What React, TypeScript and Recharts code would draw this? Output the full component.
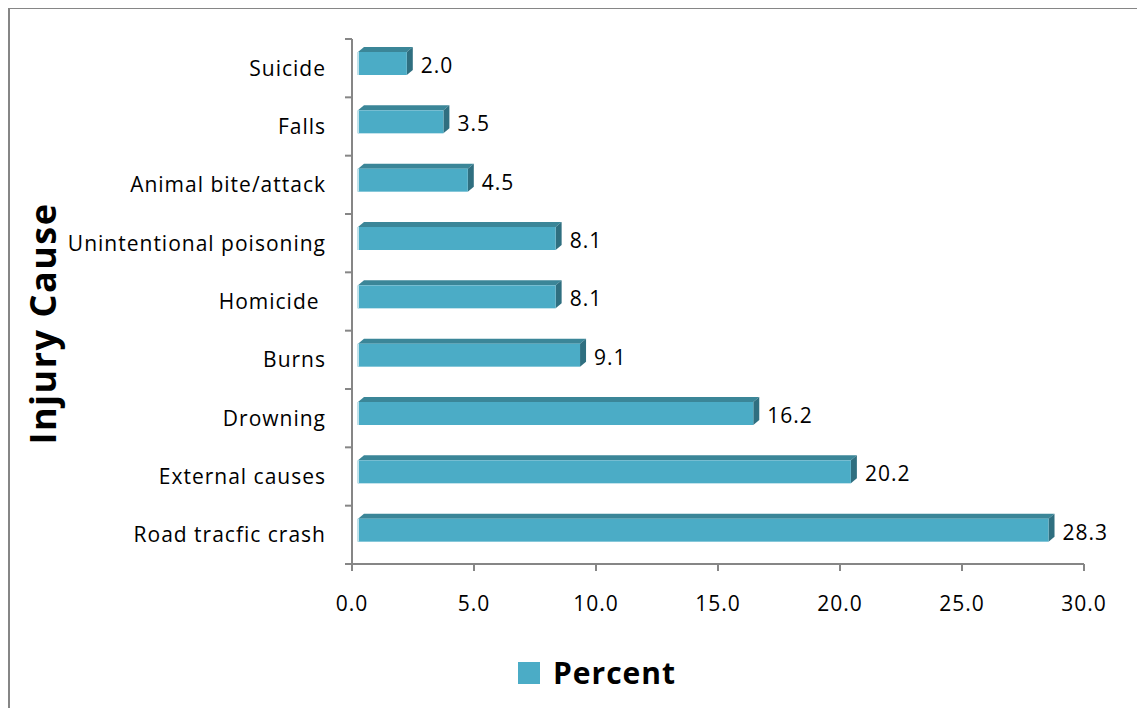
import React from 'react';
import { BarChart, Bar, XAxis, YAxis, LabelList, Legend } from 'recharts';

const categories = [
  'Suicide',
  'Falls',
  'Animal bite/attack',
  'Unintentional poisoning',
  'Homicide ',
  'Burns',
  'Drowning',
  'External causes',
  'Road tracfic crash',
];
const percent = [2.0, 3.5, 4.5, 8.1, 8.1, 9.1, 16.2, 20.2, 28.3];
const xTicks = [0, 5, 10, 15, 20, 25, 30];

const data = categories.map((name, i) => ({ name, value: percent[i] }));

const W = 1135;
const H = 699;
const MARGIN = { top: 30, right: 61, bottom: 84, left: 0 };
const Y_AXIS_W = 342;
const PLOT_LEFT = MARGIN.left + Y_AXIS_W;
const PLOT_H = H - MARGIN.top - MARGIN.bottom - 60;
const BAND = PLOT_H / categories.length;

const AXIS = '#868686';
const FRONT = '#4BACC6';
const TOP = '#3B8698';
const SIDE = '#2F6F80';
const FONT = '"Open Sans", sans-serif';

// depth of the fake 3D block
const DX = 6;
const DY = 5;

const Bar3D = (props: any) => {
  const { x, y, width, height } = props;
  if (!width || width <= 0) return null;
  const fx = x + DX;
  const fy = y - DY;
  return (
    <g>
      <polygon
        points={`${fx},${fy} ${fx + width},${fy} ${fx + width + DX},${fy - DY} ${fx + DX},${fy - DY}`}
        fill={TOP}
      />
      <polygon
        points={`${fx + width},${fy} ${fx + width + DX},${fy - DY} ${fx + width + DX},${fy + height - DY} ${fx + width},${fy + height}`}
        fill={SIDE}
      />
      <rect x={fx} y={fy} width={width} height={height} fill={FRONT} />
      <rect x={fx - 1} y={fy} width={2} height={height} fill="#BFE1EA" />
    </g>
  );
};

const CatTick = (props: any) => {
  const { y, payload, index } = props;
  const last = index === categories.length - 1;
  return (
    <g>
      <line x1={PLOT_LEFT - 7} x2={PLOT_LEFT} y1={y - BAND / 2} y2={y - BAND / 2} stroke={AXIS} strokeWidth={2} />
      {last && (
        <line x1={PLOT_LEFT - 7} x2={PLOT_LEFT} y1={y + BAND / 2} y2={y + BAND / 2} stroke={AXIS} strokeWidth={2} />
      )}
      <text
        x={PLOT_LEFT - 26}
        y={y}
        dy="0.36em"
        textAnchor="end"
        fill="#000"
        style={{ fontFamily: FONT, fontSize: 21, letterSpacing: 1, whiteSpace: 'pre' }}
      >
        {payload.value}
      </text>
    </g>
  );
};

const ValueLabel = (props: any) => {
  const { x, y, width, height, value } = props;
  return (
    <text
      x={x + width + 2 * DX + 8}
      y={y - DY + height / 2 + 2}
      dy="0.36em"
      fill="#000"
      style={{ fontFamily: FONT, fontSize: 21, letterSpacing: 1 }}
    >
      {Number(value).toFixed(1)}
    </text>
  );
};

const AxisTitle = (props: any) => {
  const { viewBox } = props;
  const cx = 32;
  const cy = viewBox.y + viewBox.height / 2 + 22;
  return (
    <text
      x={cx}
      y={cy}
      textAnchor="middle"
      dominantBaseline="central"
      transform={`rotate(-90, ${cx}, ${cy})`}
      fill="#000"
      style={{ fontFamily: FONT, fontSize: 36, fontWeight: 700, letterSpacing: 1.5 }}
    >
      Injury Cause
    </text>
  );
};

const LegendBox = () => (
  <div style={{ display: 'flex', alignItems: 'center', fontFamily: FONT }}>
    <span style={{ width: 22, height: 22, background: FRONT, display: 'inline-block', marginRight: 13 }} />
    <span style={{ fontSize: 30, fontWeight: 700, letterSpacing: 1, color: '#000' }}>Percent</span>
  </div>
);

export default function App() {
  return (
    <div style={{ borderTop: `2px solid ${AXIS}`, borderLeft: `2px solid ${AXIS}`, width: W, height: H, background: '#fff', marginTop: -1 }}>
      <BarChart width={W} height={H} data={data} layout="vertical" margin={MARGIN} barSize={23}>
        <XAxis
          type="number"
          domain={[0, 30]}
          ticks={xTicks}
          tickFormatter={(v: number) => v.toFixed(1)}
          axisLine={{ stroke: AXIS, strokeWidth: 2 }}
          tickLine={{ stroke: AXIS, strokeWidth: 2 }}
          tickSize={7}
          tickMargin={25}
          height={60}
          tick={{ fill: '#000', fontFamily: FONT, fontSize: 21, letterSpacing: 1 }}
        />
        <YAxis
          type="category"
          dataKey="name"
          width={Y_AXIS_W}
          axisLine={{ stroke: AXIS, strokeWidth: 2 }}
          tickLine={false}
          tick={<CatTick />}
          interval={0}
          label={<AxisTitle />}
        />
        <Legend
          layout="horizontal"
          verticalAlign="middle"
          align="center"
          content={<LegendBox />}
          wrapperStyle={{ left: 508, top: 643, width: 'auto' }}
        />
        <Bar dataKey="value" name="Percent" shape={<Bar3D />} isAnimationActive={false}>
          <LabelList dataKey="value" content={<ValueLabel />} />
        </Bar>
      </BarChart>
    </div>
  );
}
